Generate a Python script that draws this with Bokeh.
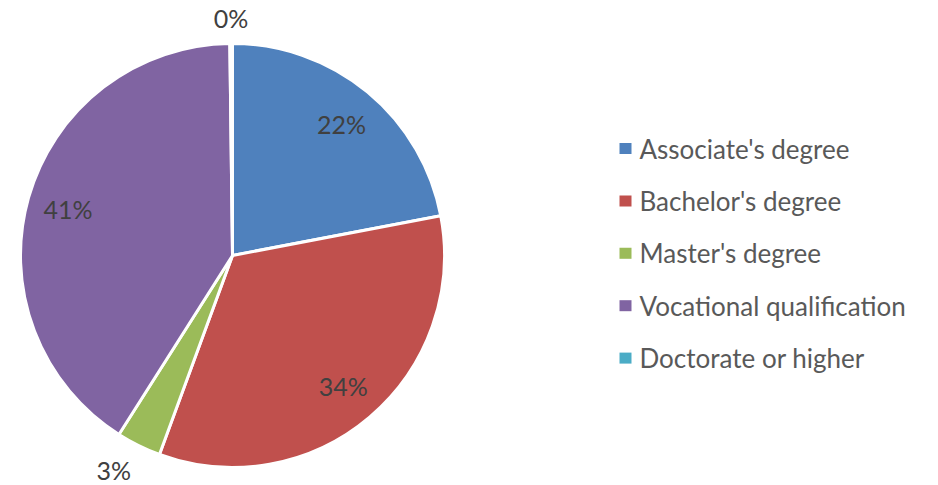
import math
from bokeh.plotting import figure
from bokeh.models import Range1d, ColumnDataSource
from bokeh.core.properties import value
from bokeh.embed import file_html
from bokeh.resources import INLINE

# ---- data ----
categories = ["Associate's degree", "Bachelor's degree", "Master's degree",
              "Vocational qualification", "Doctorate or higher"]
shares = [22.0, 33.6, 3.4, 40.8, 0.2]
colors = ["#4F81BD", "#C0504D", "#9BBB59", "#8064A2", "#4BACC6"]

W, H = 938, 485
FONT = "Lato"

p = figure(width=W, height=H, x_range=Range1d(0, W), y_range=Range1d(0, H),
           output_backend="svg", toolbar_location=None, min_border=0)
p.axis.visible = False
p.grid.visible = False
p.outline_line_color = None
p.background_fill_color = "white"

cx, cy, R = 232, H - 255, 212
total = sum(shares)

starts, ends, mids = [], [], []
cum = 0.0
for v in shares:
    a0 = cum / total
    cum += v
    a1 = cum / total
    starts.append(math.pi / 2 - 2 * math.pi * a0)
    ends.append(math.pi / 2 - 2 * math.pi * a1)
    mids.append((a0 + a1) / 2 * 2 * math.pi)  # clockwise from top

src = ColumnDataSource(dict(cat=categories, start=starts, end=ends, color=colors))
p.wedge(x=cx, y=cy, radius=R, start_angle="start", end_angle="end",
        direction="clock", fill_color="color", line_color="white",
        line_width=3, source=src)

# data labels
for v, m in zip(shares, mids):
    txt = f"{round(v)}%"
    s, c = math.sin(m), math.cos(m)
    if v >= 5:
        r = 171
        x, y = cx + r * s, cy + r * c
        align = "center"
    else:
        r = 229
        x, y = cx + r * s, cy + r * c
        align = "center" if abs(s) < 0.3 else ("left" if s > 0 else "right")
        if c > 0.3:
            y += 9
        elif c < -0.3:
            y -= 9
    p.text(x=[x], y=[y], text=[txt], text_font=value(FONT), text_font_size="25px",
           text_color="#404040", text_align=align, text_baseline="middle")

# legend
lx, ly0, dy = 625, H - 148, 52.4
for i, (cat, col) in enumerate(zip(categories, colors)):
    y = ly0 - i * dy
    p.rect(x=[lx], y=[y], width=12, height=11, fill_color=col, line_color=None)
    p.text(x=[lx + 14], y=[y], text=[cat], text_font=value(FONT), text_font_size="26px",
           text_color="#595959", text_align="left", text_baseline="middle")

open("out.html", "w").write(file_html(p, INLINE))
